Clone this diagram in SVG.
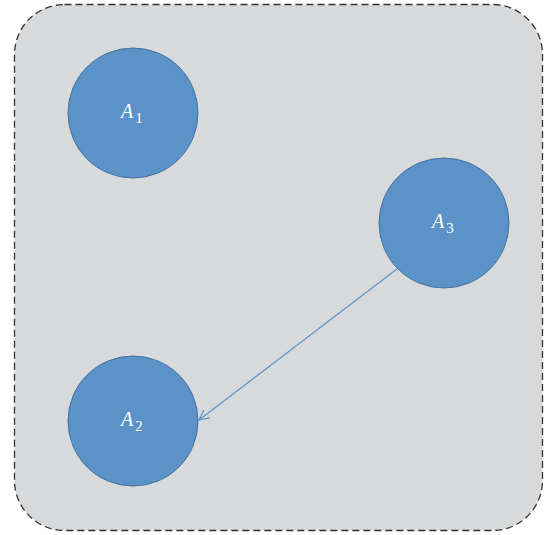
<svg xmlns="http://www.w3.org/2000/svg" width="544" height="535" viewBox="0 0 544 535">
<style>
.node{fill:#5b93c9;stroke:#41719c;stroke-width:1}
.lbl{font-family:"Liberation Serif","DejaVu Serif",serif;font-style:italic;font-size:20px;fill:#ffffff}
.sub{font-style:normal;font-size:15px}
.edge{stroke:#5b93c9;stroke-width:1.2;fill:none}
</style>
<defs>
<marker id="arr" viewBox="0 0 12 12" refX="11" refY="6" markerWidth="12" markerHeight="12" markerUnits="userSpaceOnUse" orient="auto">
<path d="M1,1 L11,6 L1,11" fill="none" stroke="#5b93c9" stroke-width="1.2"/>
</marker>
</defs>
<rect x="14.5" y="4.5" width="528" height="526" rx="50" ry="50" fill="#d8d9db" stroke="#333333" stroke-width="1.3" stroke-dasharray="7,4"/>
<g id="connectors">
<line class="edge" x1="397" y1="269" x2="199" y2="420" marker-end="url(#arr)"/>
</g>
<g id="A1">
<circle class="node" cx="133" cy="113" r="65"/>
<text class="lbl" x="121" y="118">A<tspan class="sub" dx="2" dy="5">1</tspan></text>
</g>
<g id="A3">
<circle class="node" cx="444" cy="223" r="65"/>
<text class="lbl" x="432" y="228">A<tspan class="sub" dx="2" dy="5">3</tspan></text>
</g>
<g id="A2">
<circle class="node" cx="133" cy="421" r="65"/>
<text class="lbl" x="121" y="426">A<tspan class="sub" dx="2" dy="5">2</tspan></text>
</g>
</svg>
